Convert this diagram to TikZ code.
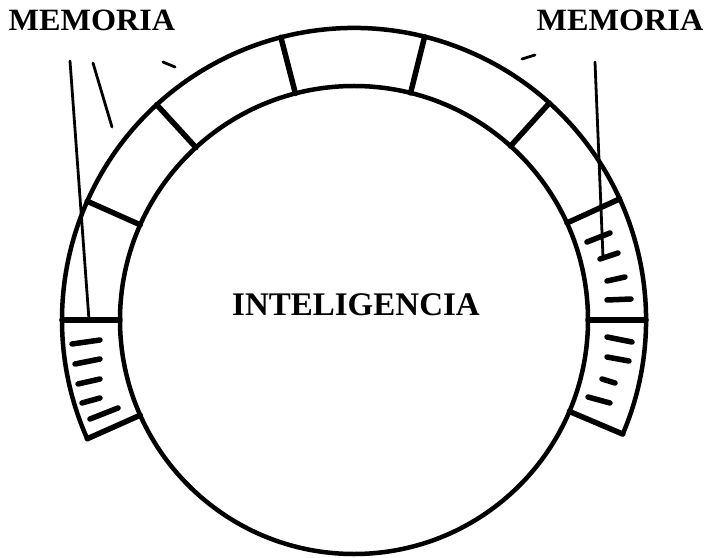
\documentclass[tikz,border=0pt]{standalone}
\usepackage{fontspec}
\setmainfont{Liberation Serif}
\begin{document}
\begin{tikzpicture}[x=1pt,y=1pt,line cap=round]
  \useasboundingbox (-354,-237) rectangle (358,320);
  \coordinate (O) at (0,0);
  % circulo y anillo de memoria
  \draw[line width=4.5pt] (O) circle (234);
  \draw[line width=4.5pt] (-23:292) arc (-23:204:292);
  \foreach \a in {-23,0,24.5,48,76,104.5,132.5,156,180,204}
    \draw[line width=5.5pt] (\a:234) -- (\a:292);
  \node[font=\bfseries\fontsize{33}{33}\selectfont] (intel) at (2,15) {INTELIGENCIA};
  \node[font=\bfseries\fontsize{31}{31}\selectfont,xscale=1.04] (memL) at (-262,300) {MEMORIA};
  \node[font=\bfseries\fontsize{31}{31}\selectfont,xscale=1.04] (memR) at (266,300) {MEMORIA};
  % trazos de las celdas llenas
  \foreach \xa/\ya/\xb/\yb in {-282/-24/-254/-20,-279/-44/-254/-39,-276/-64/-254/-59,
      -272/-83/-254/-78,-264/-99/-236/-88,233/78/256/87,246/61/264/67,253/39/271/43,
      253/20/277/21,253/-17/278/-22,253/-37/275/-41,248/-59/261/-63,234/-77/256/-83}
    \draw[line width=5.5pt] (\xa,\ya) -- (\xb,\yb);
  % lineas de referencia
  \coordinate (pL) at (-265,0);
  \coordinate (pR) at (249,63);
  \draw[line width=2.8pt] (-284,259) -- (pL);
  \draw[line width=2.8pt] (-261,257) -- (-242,193);
  \draw[line width=2.8pt] (-191,258) -- (-179,253);
  \draw[line width=2.8pt] (168,261) -- (181,265);
  \draw[line width=2.8pt] (241,258) -- (pR);
\end{tikzpicture}
\end{document}
